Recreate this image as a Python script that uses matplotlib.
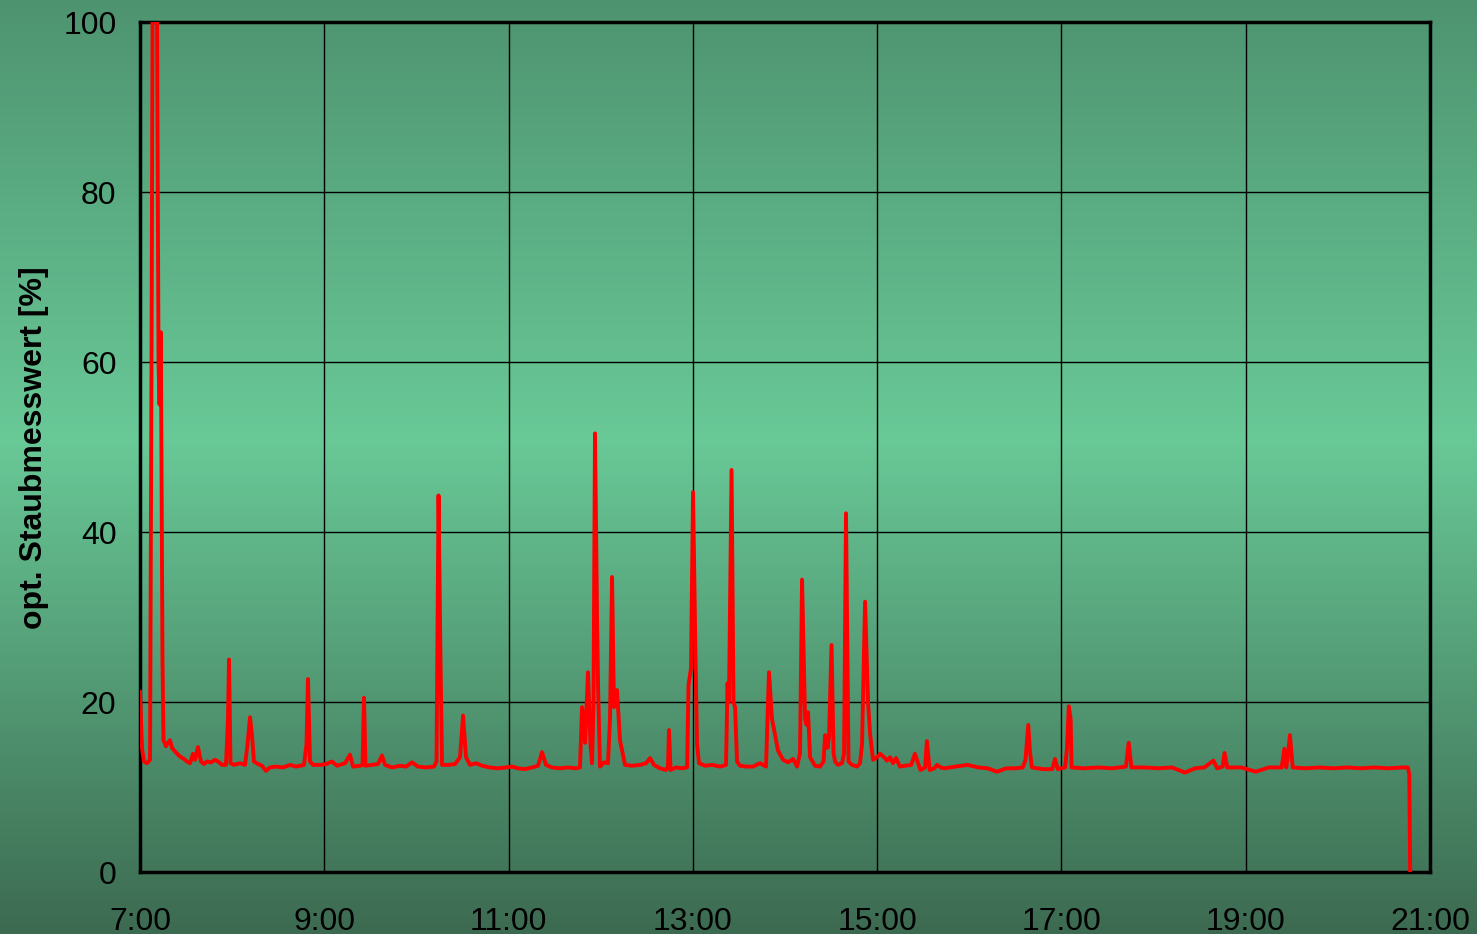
#!/usr/bin/env python3

import numpy as np
import matplotlib
matplotlib.use("Agg")
import matplotlib.pyplot as plt

# time of day in decimal hours / opt. dust reading in %
hours = [
    7.000, 7.022, 7.043, 7.076, 7.109, 7.125, 7.136, 7.185, 7.201, 7.212,
    7.226, 7.244, 7.255, 7.282, 7.304, 7.326, 7.347, 7.380, 7.412, 7.445,
    7.478, 7.510, 7.543, 7.575, 7.597, 7.629, 7.662, 7.695, 7.727, 7.771,
    7.814, 7.847, 7.890, 7.933, 7.955, 7.966, 7.982, 8.020, 8.085, 8.140,
    8.167, 8.194, 8.216, 8.237, 8.281, 8.324, 8.367, 8.411, 8.476, 8.552,
    8.628, 8.693, 8.780, 8.807, 8.823, 8.845, 8.878, 8.954, 9.019, 9.084,
    9.138, 9.225, 9.279, 9.312, 9.388, 9.415, 9.431, 9.447, 9.518, 9.583,
    9.626, 9.659, 9.735, 9.822, 9.887, 9.952, 10.017, 10.104, 10.191, 10.218,
    10.240, 10.261, 10.278, 10.343, 10.419, 10.473, 10.506, 10.538, 10.582, 10.647,
    10.712, 10.799, 10.885, 10.972, 11.037, 11.102, 11.178, 11.254, 11.320, 11.363,
    11.406, 11.471, 11.558, 11.645, 11.732, 11.775, 11.797, 11.813, 11.830, 11.862,
    11.889, 11.906, 11.922, 11.938, 11.960, 11.971, 11.992, 12.036, 12.079, 12.101,
    12.123, 12.144, 12.177, 12.209, 12.264, 12.340, 12.427, 12.492, 12.535, 12.578,
    12.644, 12.709, 12.730, 12.741, 12.758, 12.817, 12.882, 12.937, 12.953, 12.980,
    13.002, 13.029, 13.045, 13.067, 13.132, 13.208, 13.295, 13.360, 13.376, 13.392,
    13.420, 13.441, 13.458, 13.479, 13.512, 13.577, 13.653, 13.729, 13.794, 13.826,
    13.859, 13.892, 13.924, 13.979, 14.033, 14.087, 14.131, 14.163, 14.185, 14.218,
    14.234, 14.250, 14.272, 14.326, 14.380, 14.418, 14.435, 14.462, 14.478, 14.505,
    14.527, 14.543, 14.575, 14.619, 14.641, 14.662, 14.689, 14.727, 14.782, 14.814,
    14.836, 14.869, 14.901, 14.923, 14.955, 14.999, 15.031, 15.075, 15.107, 15.140,
    15.172, 15.205, 15.248, 15.302, 15.370, 15.410, 15.470, 15.520, 15.540, 15.570,
    15.620, 15.650, 15.690, 15.730, 15.850, 15.980, 16.100, 16.200, 16.300, 16.400,
    16.500, 16.580, 16.610, 16.640, 16.660, 16.680, 16.800, 16.900, 16.930, 16.960,
    17.040, 17.060, 17.080, 17.100, 17.110, 17.250, 17.400, 17.550, 17.700, 17.730,
    17.760, 17.900, 18.050, 18.200, 18.340, 18.450, 18.550, 18.650, 18.690, 18.750,
    18.770, 18.800, 18.950, 19.110, 19.250, 19.390, 19.420, 19.440, 19.460, 19.480,
    19.510, 19.650, 19.800, 19.950, 20.100, 20.250, 20.400, 20.550, 20.700, 20.760,
    20.775, 20.785,
]
values = [
    21.2, 14.5, 13.0, 12.8, 13.2, 60.0, 100.0, 100.0, 60.0, 55.0,
    63.5, 25.0, 15.5, 14.8, 15.2, 15.5, 14.6, 14.2, 13.8, 13.5,
    13.3, 13.0, 12.8, 13.9, 13.2, 14.7, 13.0, 12.7, 13.0, 12.9,
    13.2, 13.0, 12.6, 12.6, 18.0, 25.0, 12.8, 12.6, 12.8, 12.6,
    15.0, 18.2, 16.0, 13.0, 12.7, 12.5, 11.9, 12.3, 12.4, 12.3,
    12.6, 12.4, 12.6, 15.0, 22.7, 13.0, 12.6, 12.6, 12.7, 13.0,
    12.5, 12.8, 13.8, 12.4, 12.5, 12.6, 20.5, 12.5, 12.6, 12.7,
    13.7, 12.6, 12.3, 12.5, 12.4, 12.9, 12.4, 12.3, 12.4, 13.0,
    44.3, 25.0, 12.6, 12.6, 12.7, 13.5, 18.4, 13.5, 12.6, 12.8,
    12.5, 12.3, 12.2, 12.3, 12.4, 12.2, 12.1, 12.3, 12.5, 14.1,
    12.6, 12.3, 12.2, 12.3, 12.2, 12.3, 19.4, 18.0, 15.2, 23.5,
    15.0, 12.8, 20.0, 51.6, 30.0, 22.0, 12.4, 12.9, 12.8, 18.0,
    34.7, 19.4, 21.4, 15.5, 12.6, 12.5, 12.6, 12.8, 13.4, 12.6,
    12.2, 12.0, 12.4, 16.7, 12.0, 12.3, 12.2, 12.3, 22.0, 24.0,
    44.7, 25.0, 15.0, 12.8, 12.5, 12.6, 12.4, 12.6, 22.2, 20.0,
    47.3, 20.0, 19.4, 13.0, 12.5, 12.4, 12.4, 12.8, 12.4, 23.5,
    18.0, 16.1, 14.3, 13.2, 12.9, 13.3, 12.4, 14.0, 34.4, 18.0,
    17.3, 18.8, 13.5, 12.5, 12.4, 13.0, 16.1, 14.6, 16.0, 26.7,
    14.0, 13.0, 12.6, 12.8, 14.0, 42.2, 13.0, 12.6, 12.4, 12.8,
    15.0, 31.8, 20.0, 16.3, 13.2, 13.5, 13.9, 13.5, 13.1, 13.5,
    12.8, 13.4, 12.4, 12.5, 12.6, 13.9, 12.0, 12.3, 15.4, 12.0,
    12.2, 12.6, 12.3, 12.2, 12.4, 12.6, 12.3, 12.2, 11.8, 12.2,
    12.2, 12.3, 13.2, 17.3, 14.0, 12.3, 12.1, 12.1, 13.3, 12.1,
    12.3, 14.5, 19.5, 18.0, 12.3, 12.2, 12.3, 12.2, 12.4, 15.2,
    12.3, 12.3, 12.2, 12.3, 11.7, 12.2, 12.3, 13.1, 12.2, 12.4,
    14.0, 12.3, 12.3, 11.8, 12.3, 12.3, 14.5, 12.3, 14.0, 16.1,
    12.3, 12.2, 12.3, 12.2, 12.3, 12.2, 12.3, 12.2, 12.3, 12.3,
    11.5, 0.0,
]

xticks = [7, 9, 11, 13, 15, 17, 19, 21]
xlabels = ["7:00", "9:00", "11:00", "13:00", "15:00", "17:00", "19:00", "21:00"]
yticks = [0, 20, 40, 60, 80, 100]

plt.rcParams['font.family'] = ['Liberation Sans', 'DejaVu Sans']

fig = plt.figure(figsize=(14.77, 9.34), dpi=100)

# green vertical gradient behind everything
rows = np.linspace(0, 1, 400)
stops = [0.0, 0.47, 1.0]
cols = np.array([[0x4e, 0x93, 0x70], [0x69, 0xc9, 0x97], [0x3c, 0x6a, 0x51]]) / 255.0
grad = np.stack([np.interp(rows, stops, cols[:, i]) for i in range(3)], axis=-1)
grad = grad[:, None, :]
bg = fig.add_axes([0, 0, 1, 1], zorder=0)
bg.imshow(grad, aspect='auto', extent=[0, 1, 0, 1], origin='upper')
bg.axis('off')

ax = fig.add_axes([140 / 1477, 62 / 934, 1290 / 1477, 850 / 934], zorder=1)
ax.patch.set_alpha(0)

ax.plot(hours, values, color='#ff0000', linewidth=2.8, zorder=3)

ax.set_xlim(7, 21)
ax.set_ylim(0, 100)
ax.set_xticks(xticks)
ax.set_xticklabels(xlabels)
ax.set_yticks(yticks)
ax.grid(True, color='black', linewidth=1.0)
ax.set_axisbelow(True)
ax.tick_params(axis='both', length=0, labelsize=23, colors='black')
ax.tick_params(axis='x', pad=25)
ax.tick_params(axis='y', pad=17)
for s in ax.spines.values():
    s.set_linewidth(2.5)
    s.set_color('black')

fig.text(34 / 1477, 1 - 448 / 934, "opt. Staubmesswert [%]", rotation=90,
         ha='center', va='center', fontsize=23, fontweight='bold')

fig.savefig("out.png", dpi=100)
